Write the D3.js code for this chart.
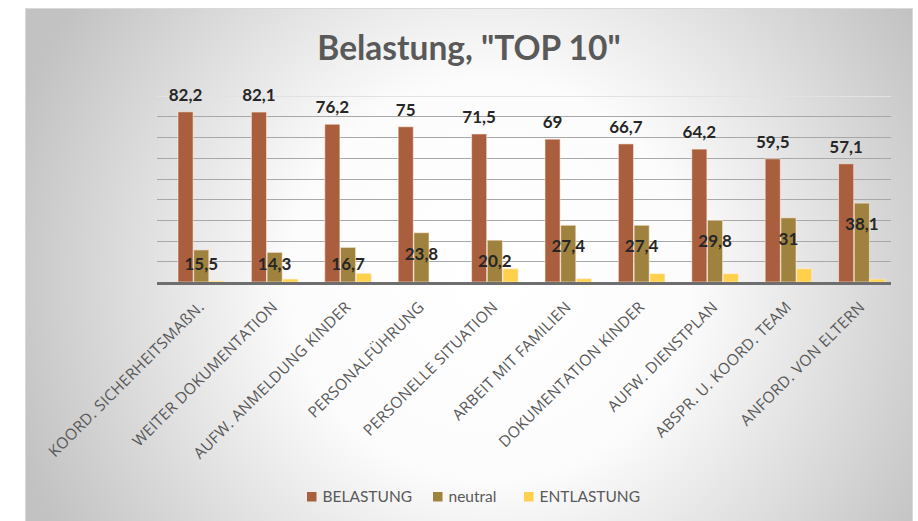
<!DOCTYPE html>
<html><head><meta charset="utf-8">
<script src="https://cdn.jsdelivr.net/npm/d3@7"></script>
<style>html,body{margin:0;padding:0;background:#fff;} svg{display:block;}</style>
</head><body>
<svg id="chart" width="918" height="521"></svg>
<script>
const categories = ["KOORD. SICHERHEITSMAßN.","WEITER DOKUMENTATION","AUFW. ANMELDUNG KINDER","PERSONALFÜHRUNG","PERSONELLE SITUATION","ARBEIT MIT FAMILIEN","DOKUMENTATION KINDER","AUFW. DIENSTPLAN","ABSPR. U. KOORD. TEAM","ANFORD. VON ELTERN"];
const seriesNames = ["BELASTUNG","neutral","ENTLASTUNG"];
const belastung = [82.2,82.1,76.2,75,71.5,69,66.7,64.2,59.5,57.1];
const neutral = [15.5,14.3,16.7,23.8,20.2,27.4,27.4,29.8,31,38.1];
const entlastung = [0.5,1.4,4.2,0,6.4,1.6,4.0,4.0,6.4,1.4];
const yTicks = [0,10,20,30,40,50,60,70,80,90];
const titleText = 'Belastung, "TOP 10"';
const colors = ["#a95f3d","#a0823f","#fed04c"];

const svg = d3.select("#chart");
const defs = svg.append("defs");
const grad = defs.append("radialGradient").attr("id","bg").attr("gradientUnits","userSpaceOnUse")
  .attr("cx",490).attr("cy",280).attr("r",500);
grad.append("stop").attr("offset",0).attr("stop-color","#ffffff");
grad.append("stop").attr("offset",0.4).attr("stop-color","#fcfcfc");
grad.append("stop").attr("offset",1).attr("stop-color","#c2c2c2");
svg.append("rect").attr("x",25.5).attr("y",8.5).attr("width",887).attr("height",520)
  .attr("fill","url(#bg)").attr("stroke","#d9d9d9").attr("stroke-width",1);

const x0 = d3.scaleBand().domain(categories).range([157,891]);
const x1 = d3.scaleBand().domain(seriesNames).range([21,67.5]).paddingInner(0.04);
const y = d3.scaleLinear().domain([0,90]).range([282,95.7]);

// gridlines
svg.append("g").selectAll("line").data(yTicks.filter(t=>t>0)).join("line")
  .attr("x1",157).attr("x2",891).attr("y1",d=>Math.round(y(d))+0.5).attr("y2",d=>Math.round(y(d))+0.5)
  .attr("stroke",d=>d===90?"#e2e2e2":"#a8a8a8").attr("stroke-width",1);

const series = [belastung, neutral, entlastung];
const rows = categories.map((c,i)=>({cat:c, vals:seriesNames.map((s,j)=>({s, v:series[j][i], j}))}));

const g = svg.append("g").selectAll("g").data(rows).join("g")
  .attr("transform",d=>`translate(${x0(d.cat)},0)`);
g.selectAll("rect").data(d=>d.vals).join("rect")
  .attr("x",d=>x1(d.s)).attr("width",x1.bandwidth())
  .attr("y",d=>y(d.v)).attr("height",d=>y(0)-y(d.v))
  .attr("fill",d=>colors[d.j])
  .attr("stroke",d=>d.v>0?"rgba(255,240,225,0.55)":"none").attr("stroke-width",1);

// axis line
svg.append("line").attr("x1",157).attr("x2",891).attr("y1",y(0)+1.5).attr("y2",y(0)+1.5)
  .attr("stroke","#6e6e6e").attr("stroke-width",3);

const fmt = v => String(v).replace(".",",");
// BELASTUNG labels
g.append("text").attr("x",x1("BELASTUNG")+x1.bandwidth()/2).attr("y",d=>y(d.vals[0].v)-11)
  .attr("text-anchor","middle").attr("font-family","Lato").attr("font-weight","bold")
  .attr("font-size",17).attr("fill","#262626").text(d=>fmt(d.vals[0].v));
// neutral labels
g.append("text").attr("x",x1("neutral")+x1.bandwidth()/2).attr("y",d=>Math.min(y(d.vals[1].v)+27, y(0)-12.5))
  .attr("text-anchor","middle").attr("font-family","Lato").attr("font-weight","bold")
  .attr("font-size",17).attr("fill","#262626").text(d=>fmt(d.vals[1].v));

// category labels
svg.append("g").selectAll("text").data(categories).join("text")
  .attr("transform",d=>`translate(${x0(d)+48},308) rotate(-45)`)
  .attr("text-anchor","end").attr("font-family","'Open Sans', sans-serif").attr("font-size",15.5)
  .attr("letter-spacing",0.3)
  .attr("fill","#595959").text(d=>d);

// title
svg.append("text").attr("x",469).attr("y",59.5).attr("text-anchor","middle")
  .attr("font-family","Lato").attr("font-weight","bold").attr("font-size",33.5)
  .attr("fill","#595959").text(titleText);

// legend
const legX = [307,433,524];
const leg = svg.append("g").selectAll("g").data(seriesNames).join("g")
  .attr("transform",(d,i)=>`translate(${legX[i]},492)`);
leg.append("rect").attr("width",9.5).attr("height",9.5).attr("fill",(d,i)=>colors[i]);
leg.append("text").attr("x",15.5).attr("y",10).attr("font-family","Lato").attr("font-size",15.5)
  .attr("fill","#595959").text(d=>d);
</script>
</body></html>
